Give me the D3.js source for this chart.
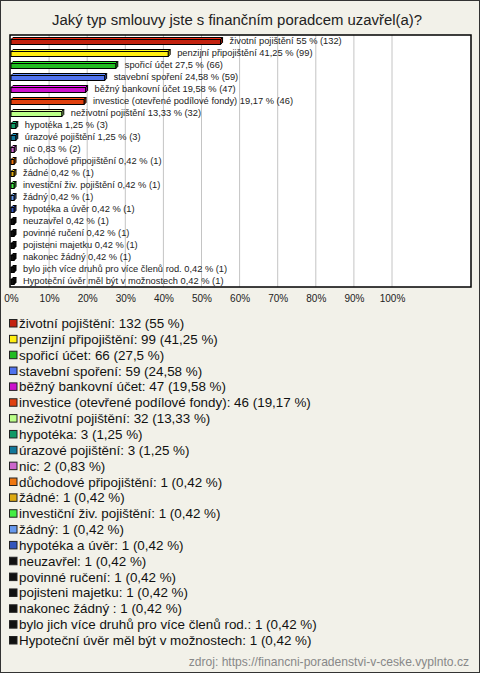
<!DOCTYPE html>
<html><head><meta charset="utf-8">
<script src="https://cdn.jsdelivr.net/npm/d3@7"></script>
<style>
html,body{margin:0;padding:0;background:#f2f1e9;}
svg{display:block;font-family:"Liberation Sans",Arial,sans-serif;}
</style></head>
<body><svg id="c" width="480" height="673"></svg>
<script>
const categories = ["životní pojištění","penzijní připojištění","spořicí účet","stavební spoření","běžný bankovní účet","investice (otevřené podílové fondy)","neživotní pojištění","hypotéka","úrazové pojištění","nic","důchodové připojištění","žádné","investiční živ. pojištění","žádný","hypotéka a úvěr","neuzavřel","povinné ručení","pojisteni majetku","nakonec žádný ","bylo jich více druhů pro více členů rod.","Hypoteční úvěr měl být v možnostech"];
const counts = [132,99,66,59,47,46,32,3,3,2,1,1,1,1,1,1,1,1,1,1,1];
const percents = [55,41.25,27.5,24.58,19.58,19.17,13.33,1.25,1.25,0.83,0.42,0.42,0.42,0.42,0.42,0.42,0.42,0.42,0.42,0.42,0.42];
const colors = ["#c3220f","#ffee11","#22bb22","#4f72ee","#cc11cc","#e0400f","#bbff88","#119966","#117799","#cc66cc","#ee7711","#ddaa11","#44ee44","#6699ee","#3355bb","#111111","#111111","#111111","#111111","#111111","#111111"];
const ticks = [0,10,20,30,40,50,60,70,80,90,100];
const title = "Jaký typ smlouvy jste s finančním poradcem uzavřel(a)?";
const source = "zdroj: https://financni-poradenstvi-v-ceske.vyplnto.cz";

const fmt = v => String(v).replace(".", ",");
const svg = d3.select("#c");
const W = 480, H = 673;
svg.append("rect").attr("x",0.5).attr("y",0.5).attr("width",W-1).attr("height",H-1)
  .attr("fill","#f2f1e9").attr("stroke","#333").attr("stroke-width",1);

svg.append("text").attr("x",237).attr("y",25).attr("text-anchor","middle")
  .attr("font-size",14.9).attr("fill","#222").text(title);

const plot = {x0:10, x1:471, y0:35, y1:287};
svg.append("rect").attr("x",plot.x0).attr("y",plot.y0).attr("width",plot.x1-plot.x0).attr("height",plot.y1-plot.y0)
  .attr("fill","#fff");

const x = d3.scaleLinear().domain([0,100]).range([11,392]);
const y = d3.scaleBand().domain(d3.range(categories.length)).range([plot.y0,plot.y1]);

svg.append("g").selectAll("line").data(ticks.slice(1)).join("line")
  .attr("x1",d=>x(d)).attr("x2",d=>x(d)).attr("y1",plot.y0).attr("y2",plot.y1)
  .attr("stroke","#c4c4c4").attr("stroke-width",1);

const axis = d3.axisBottom(x).tickValues(ticks).tickFormat(d=>d+"%").tickSize(0).tickPadding(0);
const ag = svg.append("g").attr("transform","translate(0,"+(plot.y1+15)+")").call(axis);
ag.select(".domain").remove();
ag.selectAll("text").attr("font-size",10).attr("fill","#222").attr("font-family","Liberation Sans, Arial, sans-serif").attr("dy",0);

const d = 2, h = 5;
const bars = svg.append("g");
categories.forEach((c,i)=>{
  const cy = y(i) + y.bandwidth()/2;
  const x0 = x(0), x1 = Math.max(x(percents[i]), x0 + 3);
  const top = cy - h/2 + 1;
  const g = bars.append("g");
  g.append("polygon").attr("points",[[x0,top],[x0+d,top-d],[x1+d,top-d],[x1,top]].join(" "))
    .attr("fill",d3.color(colors[i]).brighter(0.6)).attr("stroke","#000").attr("stroke-width",1);
  g.append("polygon").attr("points",[[x1,top],[x1+d,top-d],[x1+d,top+h-d],[x1,top+h]].join(" "))
    .attr("fill",d3.color(colors[i]).darker(0.8)).attr("stroke","#000").attr("stroke-width",1);
  g.append("rect").attr("x",x0).attr("y",top).attr("width",x1-x0).attr("height",h)
    .attr("fill",colors[i]).attr("stroke","#000").attr("stroke-width",1);
  g.append("text").attr("x",x1+d+7).attr("y",cy+3).attr("font-size",9.3).attr("fill","#222")
    .text(c+" "+fmt(percents[i])+" % ("+counts[i]+")");
});

svg.append("rect").attr("x",plot.x0).attr("y",plot.y0).attr("width",plot.x1-plot.x0).attr("height",plot.y1-plot.y0)
  .attr("fill","none").attr("stroke","#000").attr("stroke-width",1.5);

const leg = svg.append("g");
categories.forEach((c,i)=>{
  const cy = 323.5 + i*15.85;
  leg.append("rect").attr("x",9.5).attr("y",cy-4).attr("width",7.5).attr("height",7.5)
    .attr("fill",colors[i]).attr("stroke","#222").attr("stroke-width",1);
  leg.append("text").attr("x",19).attr("y",cy+4.5).attr("font-size",13.4).attr("fill","#111")
    .text(c+": "+counts[i]+" ("+fmt(percents[i])+" %)");
});

svg.append("text").attr("x",469).attr("y",666).attr("text-anchor","end").attr("font-size",12.1)
  .attr("fill","#888").text(source);
</script></body></html>
